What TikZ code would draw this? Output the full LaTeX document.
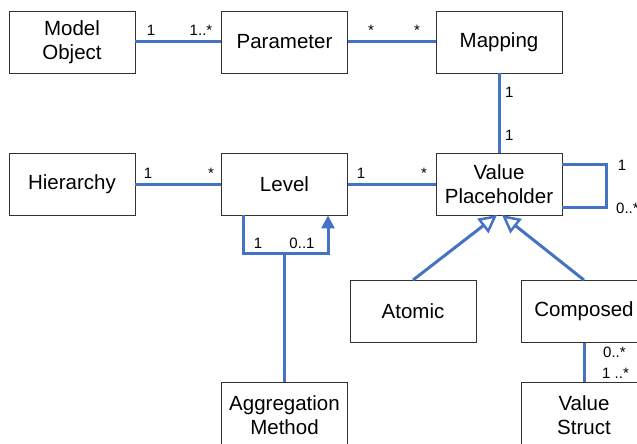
\documentclass[tikz,border=0pt]{standalone}
\usepackage{fontspec}
\setmainfont{Liberation Sans}
\usetikzlibrary{arrows.meta}
\definecolor{lnblue}{RGB}{68,114,196}
\definecolor{bxgray}{RGB}{50,50,50}
\begin{document}
\begin{tikzpicture}[x=1pt,y=-1pt,
  box/.style={draw=bxgray,line width=0.9pt,minimum width=126pt,minimum height=62pt,inner sep=0pt,align=center,font=\fontsize{20.5}{24}\selectfont},
  tallbox/.style={box,minimum height=66pt},
  conn/.style={draw=lnblue,line width=3pt},
  lab/.style={anchor=base,inner sep=0pt,font=\fontsize{15}{17}\selectfont},
  labl/.style={lab,anchor=base west},
  gen/.style={conn,-{Triangle[open,length=18pt,width=18pt,fill=white,line width=2.5pt]}},
  agga/.style={conn,-{Triangle[length=13pt,width=13pt]}}]
\useasboundingbox (0,0) rectangle (637,444);
\clip (0,0) rectangle (637,444);
% boxes
\node[box] (mo) at (72,42) {Model\\Object};
\node[box] (par) at (284.5,42) {Parameter};
\node[box] (map) at (499,42) {Mapping};
\node[box] (hier) at (72,184) {Hierarchy};
\node[box] (lev) at (284.5,184) {Level};
\node[box] (vp) at (499,184) {Value\\Placeholder};
\node[box] (atom) at (413,311.5) {Atomic};
\node[box] (comp) at (584,311.5) {Composed};
\node[tallbox] (agg) at (284.5,415) {Aggregation\\Method};
\node[tallbox] (vs) at (584,415) {Value\\Struct};
% top associations
\draw[conn] (mo.east) -- (par.west);
\node[lab] (l1) at (151,36) {1};
\node[lab] (l2) at (201,36) {1..*};
\draw[conn] (par.east) -- (map.west);
\node[lab] (l3) at (371,36) {*};
\node[lab] (l4) at (417,36) {*};
\draw[conn] (map.south) -- (vp.north);
\node[labl] (l5) at (505,97) {1};
\node[labl] (l6) at (505,140) {1};
% middle row
\draw[conn] (hier.east) -- (lev.west);
\node[lab] (l7) at (148,178) {1};
\node[lab] (l8) at (211,178) {*};
\draw[conn] (lev.east) -- (vp.west);
\node[lab] (l9) at (361,178) {1};
\node[lab] (l10) at (424,178) {*};
% self loop
\coordinate (sa) at (606,164);
\coordinate (sb) at (606,207);
\draw[conn] (vp.east |- sa) -- (sa) -- (sb) -- (vp.east |- sb);
\node[lab] (l11) at (622,170) {1};
\node[labl] (l12) at (616,213) {0..*};
% level aggregation loop
\coordinate (ga) at (243,253);
\coordinate (gb) at (328,253);
\draw[agga] (lev.south -| ga) -- (ga) -- (gb) -- (lev.south -| gb);
\draw[conn] (agg.north) -- (agg.north |- ga);
\node[lab] (l13) at (258,248) {1};
\node[lab] (l14) at (302,248) {0..1};
% generalization
\coordinate (ta) at (497,215);
\coordinate (tb) at (502,215);
\draw[gen] (atom.north) -- (ta);
\draw[gen] (comp.north) -- (tb);
% composed - value struct
\draw[conn] (comp.south) -- (vs.north);
\node[labl] (l15) at (603,357) {0..*};
\node[labl] (l16) at (602,378) {1 ..*};
\end{tikzpicture}
\end{document}
